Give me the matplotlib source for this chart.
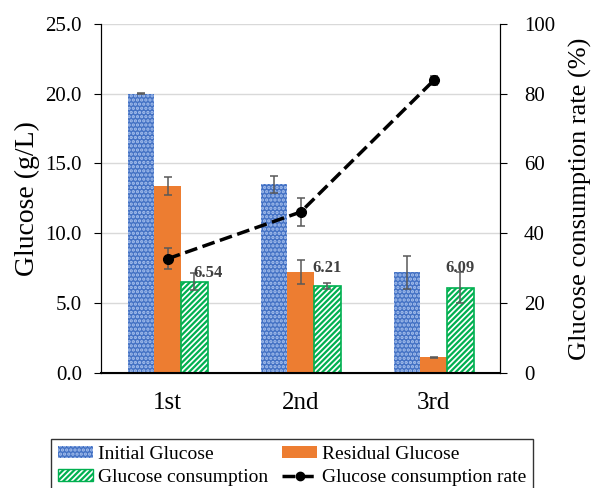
import numpy as np
import matplotlib
matplotlib.use('Agg')
import matplotlib.pyplot as plt
from matplotlib.patches import Patch
from matplotlib.lines import Line2D

plt.rcParams['font.family'] = ['Liberation Serif', 'DejaVu Serif']
plt.rcParams['hatch.linewidth'] = 1.6

# data
cycles = ['1st', '2nd', '3rd']
initial = [20.0, 13.5, 7.2]
initial_err = [0.05, 0.6, 1.2]
residual = [13.4, 7.2, 1.1]
residual_err = [0.65, 0.85, 0.07]
consumption = [6.54, 6.21, 6.09]
consumption_err = [0.6, 0.22, 1.1]
rate = [32.7, 46.1, 83.8]
rate_err = [3.0, 3.9, 1.4]

blue = '#4472C4'
orange = '#ED7D31'
green = '#00B050'
err_kw = dict(ecolor='#595959', elinewidth=1.1, capsize=3, capthick=1.1)

fig = plt.figure(figsize=(5.92, 4.88), dpi=100)
ax = fig.add_axes([0.171, 0.236, 0.674, 0.715])
x = np.arange(len(cycles))
w = 0.2

ax.bar(x - w, initial, w, yerr=initial_err, color=blue, edgecolor='#A9C2EE',
       hatch='....', linewidth=0, error_kw=err_kw, zorder=2)
ax.bar(x, residual, w, yerr=residual_err, color=orange, linewidth=0,
       error_kw=err_kw, zorder=2)
ax.bar(x + w, consumption, w, yerr=consumption_err, color='white', edgecolor=green,
       hatch='//////', linewidth=1.2, error_kw=err_kw, zorder=2)

# value labels over the consumption bars
label_offsets = [(10, 6), (0, 13), (0, 14)]
for xi, v, off in zip(x, consumption, label_offsets):
    ax.annotate(f'{v:.2f}', xy=(xi + w, v), xytext=off, textcoords='offset points',
                ha='center', va='center', fontsize=12, fontweight='bold', color='#404040')

ax.set_ylim(0, 25)
ax.set_xlim(-0.5, 2.5)
ax.set_yticks(np.arange(0, 25.1, 5))
ax.set_yticklabels([f'{t:.1f}' for t in np.arange(0, 25.1, 5)])
ax.set_xticks(x)
ax.set_xticklabels(cycles)
ax.tick_params(axis='x', length=0, labelsize=18, pad=14)
ax.tick_params(axis='y', labelsize=15, direction='out', length=5, pad=9)
ax.grid(axis='y', color='#D9D9D9', linewidth=1, zorder=0)
ax.set_axisbelow(True)
ax.spines['top'].set_visible(False)
ax.spines['bottom'].set_linewidth(1.5)
ax.set_ylabel('Glucose (g/L)', fontsize=20, labelpad=4)

ax2 = ax.twinx()
ax2.errorbar(x, rate, yerr=rate_err, color='black', linestyle='--', linewidth=2.5,
             marker='o', markersize=7, ecolor='#595959', elinewidth=1.1, capsize=3,
             capthick=1.1, zorder=3)
ax2.set_ylim(0, 100)
ax2.set_yticks(np.arange(0, 101, 20))
ax2.tick_params(axis='y', labelsize=15, direction='out', length=5, pad=12)
ax2.spines['top'].set_visible(False)
ax2.set_ylabel('Glucose consumption rate (%)', fontsize=19, labelpad=10)

handles = [
    Patch(facecolor=blue, edgecolor='#A9C2EE', hatch='....', linewidth=0, label='Initial Glucose'),
    Patch(facecolor='white', edgecolor=green, hatch='//////', label='Glucose consumption'),
    Patch(facecolor=orange, linewidth=0, label='Residual Glucose'),
    Line2D([0], [0], color='black', linestyle='--', linewidth=2.5, marker='o',
           markersize=6, label='Glucose consumption rate'),
]
leg = fig.legend(handles=handles, ncol=2, loc='upper left',
                 bbox_to_anchor=(0.086, 0.1004), fontsize=14,
                 frameon=True, fancybox=False, edgecolor='black',
                 handlelength=1.8, handleheight=0.6, handletextpad=0.25, borderaxespad=0,
                 labelspacing=0.32, borderpad=0.35, columnspacing=0.75)
leg.get_frame().set_linewidth(1.0)

fig.savefig('out.png', dpi=100)
